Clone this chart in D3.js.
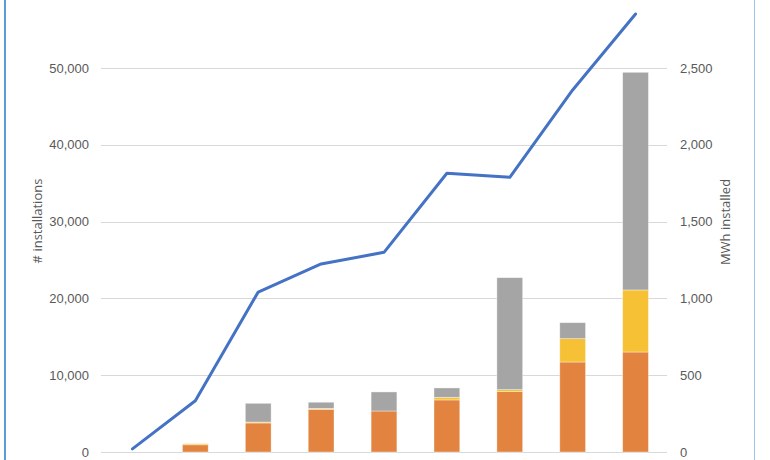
<!DOCTYPE html>
<html>
<head>
<meta charset="utf-8">
<script src="https://cdn.jsdelivr.net/npm/d3@7"></script>
<style>
  body { margin: 0; background: #fff; }
  svg { display: block; font-family: "Open Sans", "Noto Sans", sans-serif; }
</style>
</head>
<body>
<script>
// categories (the axis labels sit below the visible area)
var categories = ['c1', 'c2', 'c3', 'c4', 'c5', 'c6', 'c7', 'c8', 'c9'];

// stacked bars, MWh installed (right axis)
var mwhOrange = [0, 47, 189, 278, 267, 339, 393, 586, 651];
var mwhYellow = [0, 7, 6, 6, 0, 17, 13, 152, 404];
var mwhGray = [0, 0, 122, 40, 124, 61, 729, 104, 1417];

// line, # installations (left axis)
var installations = [400, 6680, 20830, 24480, 26000, 36290, 35770, 47140, 57030];

var leftTicks = [0, 10000, 20000, 30000, 40000, 50000];
var rightTicks = [0, 500, 1000, 1500, 2000, 2500];

var colors = {orange: '#e2843f', yellow: '#f6c135', gray: '#a5a5a5', line: '#4472c4'};

var width = 770;
var height = 460;
var plot = {left: 101, right: 667, bottom: 452};

var svg = d3.select('body')
  .append('svg')
  .attr('width', width)
  .attr('height', height);

svg.append('rect')
  .attr('width', width)
  .attr('height', height)
  .attr('fill', '#fff');

var x = d3.scaleBand()
  .domain(categories)
  .range([plot.left, plot.right])
  .paddingInner(0.59)
  .paddingOuter(0.295);

var yLeft = d3.scaleLinear()
  .domain([0, 60000])
  .range([plot.bottom, plot.bottom - 460.8]);

var yRight = d3.scaleLinear()
  .domain([0, 3000])
  .range([plot.bottom, plot.bottom - 460.8]);

// gridlines
svg.append('g')
  .selectAll('line')
  .data(leftTicks)
  .enter()
  .append('line')
  .attr('x1', plot.left)
  .attr('x2', plot.right)
  .attr('y1', function(d) { return Math.round(yLeft(d)) + 0.5; })
  .attr('y2', function(d) { return Math.round(yLeft(d)) + 0.5; })
  .attr('stroke', '#d9d9d9')
  .attr('stroke-width', 1.2);

// left axis
var leftAxis = svg.append('g')
  .attr('transform', 'translate(' + (plot.left - 6) + ',0)')
  .call(d3.axisLeft(yLeft).tickValues(leftTicks).tickSize(0).tickPadding(6).tickFormat(d3.format(',')));

// right axis
var rightAxis = svg.append('g')
  .attr('transform', 'translate(' + (plot.right + 7) + ',0)')
  .call(d3.axisRight(yRight).tickValues(rightTicks).tickSize(0).tickPadding(6).tickFormat(d3.format(',')));

[leftAxis, rightAxis].forEach(function(g) {
  g.select('.domain').remove();
  g.selectAll('text')
    .attr('fill', '#595959')
    .style('font-size', '13px');
});

// stacked bars
var rows = categories.map(function(c, i) {
  return {cat: c, orange: mwhOrange[i], yellow: mwhYellow[i], gray: mwhGray[i]};
});
var stack = d3.stack().keys(['orange', 'yellow', 'gray'])(rows);

svg.append('g')
  .selectAll('g')
  .data(stack)
  .enter()
  .append('g')
  .attr('fill', function(d) { return colors[d.key]; })
  .selectAll('rect')
  .data(function(d) { return d.filter(function(p) { return p[1] - p[0] > 0; }); })
  .enter()
  .append('rect')
  .attr('x', function(d) { return x(d.data.cat); })
  .attr('width', x.bandwidth())
  .attr('y', function(d) { return yRight(d[1]); })
  .attr('height', function(d) { return yRight(d[0]) - yRight(d[1]); })
  .attr('stroke', '#ffffff')
  .attr('stroke-opacity', 0.5)
  .attr('stroke-width', 0.75);

// line
var line = d3.line()
  .x(function(d, i) { return x(categories[i]) + x.bandwidth() / 2; })
  .y(function(d) { return yLeft(d); });

svg.append('path')
  .datum(installations)
  .attr('d', line)
  .attr('fill', 'none')
  .attr('stroke', colors.line)
  .attr('stroke-width', 3)
  .attr('stroke-linecap', 'round')
  .attr('stroke-linejoin', 'round');

// axis titles
svg.append('text')
  .attr('transform', 'translate(42,221) rotate(-90)')
  .attr('text-anchor', 'middle')
  .attr('fill', '#595959')
  .style('font-size', '13px')
  .text('# installations');

svg.append('text')
  .attr('transform', 'translate(730,222) rotate(-90)')
  .attr('text-anchor', 'middle')
  .attr('fill', '#595959')
  .style('font-size', '13px')
  .text('MWh installed');

// chart frame edges
svg.append('line')
  .attr('x1', 5).attr('x2', 5)
  .attr('y1', 0).attr('y2', height)
  .attr('stroke', '#5b9bd5')
  .attr('stroke-width', 2);

svg.append('line')
  .attr('x1', 754.5).attr('x2', 754.5)
  .attr('y1', 0).attr('y2', height)
  .attr('stroke', '#9dc3e6')
  .attr('stroke-width', 1);
</script>
</body>
</html>
